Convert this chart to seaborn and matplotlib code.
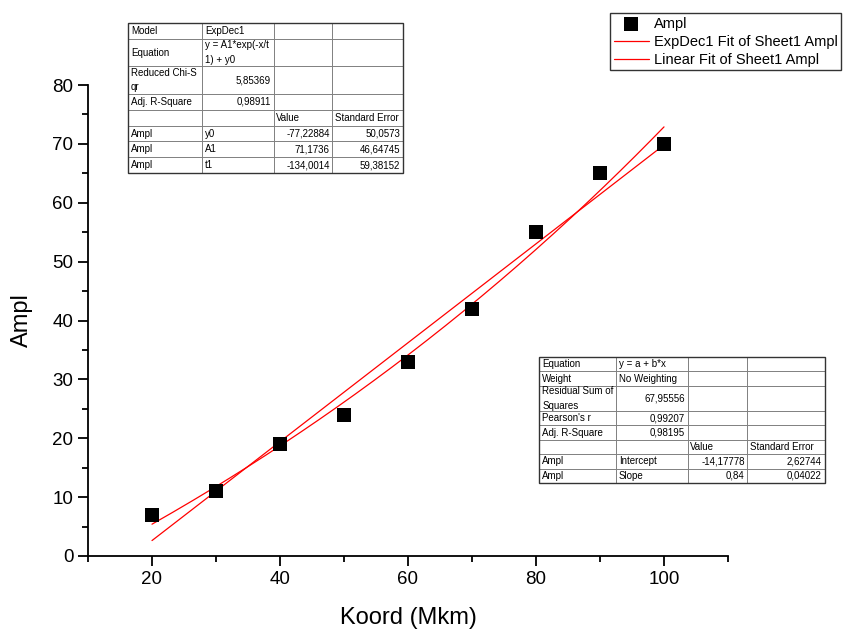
import numpy as np
import pandas as pd
import matplotlib
matplotlib.use("Agg")
import matplotlib.pyplot as plt
from matplotlib.ticker import MultipleLocator
from matplotlib.patches import Rectangle
import seaborn as sns

# measured points
koord = [20, 30, 40, 50, 60, 70, 80, 90, 100]
ampl = [7, 11, 19, 24, 33, 42, 55, 65, 70]

# fit parameters (from the result tables)
exp_y0 = -77.22884
exp_A1 = 71.1736
exp_t1 = -134.0014
lin_a = -14.17778
lin_b = 0.84

# table texts
exp_table = [
    ["Model", "ExpDec1", "", ""],
    ["Equation", "y = A1*exp(-x/t\n1) + y0", "", ""],
    ["Reduced Chi-S\nqr", "5,85369", "", ""],
    ["Adj. R-Square", "0,98911", "", ""],
    ["", "", "Value", "Standard Error"],
    ["Ampl", "y0", "-77,22884", "50,0573"],
    ["Ampl", "A1", "71,1736", "46,64745"],
    ["Ampl", "t1", "-134,0014", "59,38152"],
]
lin_table = [
    ["Equation", "y = a + b*x", "", ""],
    ["Weight", "No Weighting", "", ""],
    ["Residual Sum of\nSquares", "67,95556", "", ""],
    ["Pearson's r", "0,99207", "", ""],
    ["Adj. R-Square", "0,98195", "", ""],
    ["", "", "Value", "Standard Error"],
    ["Ampl", "Intercept", "-14,17778", "2,62744"],
    ["Ampl", "Slope", "0,84", "0,04022"],
]

sns.set_style("ticks")
plt.rcParams['font.family'] = ['Liberation Sans', 'DejaVu Sans']
plt.rcParams.update({"text.color": "black", "axes.labelcolor": "black",
                     "xtick.color": "black", "ytick.color": "black"})

W, H = 843, 632
fig = plt.figure(figsize=(W / 100, H / 100), dpi=100)
ax = fig.add_axes([88 / W, 1 - 556 / H, (728 - 88) / W, (556 - 85) / H])

xs = np.linspace(koord[0], koord[-1], 200)
fits = pd.DataFrame({
    "x": xs,
    "exp": exp_y0 + exp_A1 * np.exp(-xs / exp_t1),
    "lin": lin_a + lin_b * xs,
})
df = pd.DataFrame({"Koord": koord, "Ampl": ampl})

sns.scatterplot(data=df, x="Koord", y="Ampl", marker="s", s=95, color="black",
                edgecolor="black", linewidth=0, ax=ax, label="Ampl", zorder=3)
sns.lineplot(data=fits, x="x", y="exp", color="red", lw=0.9, ax=ax,
             label="ExpDec1 Fit of Sheet1 Ampl")
sns.lineplot(data=fits, x="x", y="lin", color="red", lw=0.9, ax=ax,
             label="Linear Fit of Sheet1 Ampl")

ax.set_xlim(10, 110)
ax.set_ylim(0, 80)
ax.xaxis.set_major_locator(MultipleLocator(20))
ax.xaxis.set_minor_locator(MultipleLocator(10))
ax.yaxis.set_major_locator(MultipleLocator(10))
ax.yaxis.set_minor_locator(MultipleLocator(5))
ax.tick_params(which="major", length=7, width=1.3, labelsize=13.5, color="black")
ax.tick_params(which="minor", length=4, width=1.3, color="black")
sns.despine(ax=ax)
for s in ["left", "bottom"]:
    ax.spines[s].set_linewidth(1.3)
    ax.spines[s].set_color("black")
ax.set_xlabel("Koord (Mkm)", fontsize=17, labelpad=14)
ax.set_ylabel("Ampl", fontsize=17, labelpad=14)

leg = ax.legend(loc="upper left", bbox_to_anchor=(610 / W, 1 - 13 / H),
                bbox_transform=fig.transFigure, fontsize=10.5, frameon=True,
                fancybox=False, edgecolor="black", handlelength=2.4,
                handletextpad=0.35, borderpad=0.25, labelspacing=0.28,
                borderaxespad=0)
leg.get_frame().set_linewidth(1.0)


def draw_table(rows, x0, y0, x1, y1, col_edges, row_h):
    tax = fig.add_axes([x0 / W, 1 - y1 / H, (x1 - x0) / W, (y1 - y0) / H])
    tax.axis("off")
    widths = np.diff(col_edges) / (col_edges[-1] - col_edges[0])
    tbl = tax.table(cellText=rows, colWidths=list(widths), bbox=[0, 0, 1, 1],
                    cellLoc="left")
    tbl.auto_set_font_size(False)
    tbl.set_fontsize(7)
    total = sum(row_h)
    for (r, c), cell in tbl.get_celld().items():
        cell.set_height(row_h[r] / total)
        cell.set_edgecolor("#777777")
        cell.set_linewidth(0.6)
        cell.PAD = 0.04
        txt = cell.get_text()
        txt.set_linespacing(1.55)
        val = rows[r][c]
        if val and (val[0].isdigit() or val[0] == "-"):
            txt.set_horizontalalignment("right")
            cell._loc = "right"
    tax.add_patch(Rectangle((0, 0), 1, 1, transform=tax.transAxes, fill=False,
                            edgecolor="#333333", lw=1.0, zorder=5, clip_on=False))
    return tbl


draw_table(exp_table, 128, 23, 403, 173, [128, 202, 274, 332, 403],
           [1.0, 1.75, 1.75, 1.0, 1.0, 1.0, 1.0, 1.0])
draw_table(lin_table, 539, 357, 825, 483, [539, 616, 688, 747, 825],
           [1.0, 1.0, 1.75, 1.0, 1.0, 1.0, 1.0, 1.0])

fig.savefig("out.png", dpi=100)
